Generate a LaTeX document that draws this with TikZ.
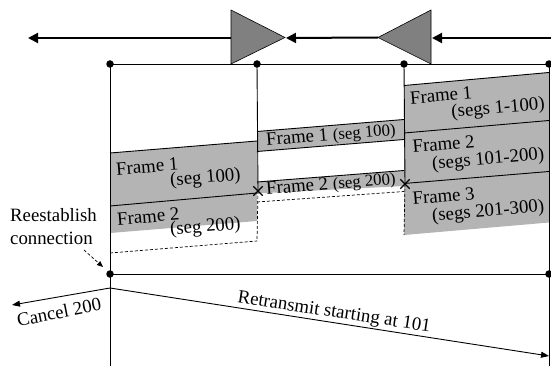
\documentclass[tikz,border=0pt]{standalone}
\usepackage{fontspec}
\setmainfont{Liberation Serif}
\usetikzlibrary{arrows.meta,shapes.misc}
\definecolor{framegray}{RGB}{180,180,180}
\definecolor{trigray}{RGB}{128,128,128}
\begin{document}
\begin{tikzpicture}[x=1pt,y=-1pt,
  dot/.style={circle,fill=black,inner sep=0pt,minimum size=7.5pt},
  txt/.style={font=\fontsize{18.8}{23}\selectfont,inner sep=0pt},
  two/.style={font=\fontsize{18.8}{#1}\selectfont,inner sep=0pt,align=left},
  ln/.style={line width=0.9pt},
  dsh/.style={line width=0.7pt,dash pattern=on 3pt off 2pt},
  fr/.style={fill=framegray,draw=none},
  xm/.style={cross out,draw,line width=1.3pt,minimum size=8pt,inner sep=0pt},
  big/.style={line width=2pt,-{Triangle[length=10pt,width=10pt]}},
  sm/.style={line width=0.9pt,-{Triangle[length=8pt,width=6pt]}},
  tri/.style={fill=trigray,draw=black,line width=0.6pt}]
\useasboundingbox (0,0) rectangle (551,366);
% ---- coordinates
\coordinate (LA1) at (110,153); \coordinate (LB1) at (257,141);
\coordinate (LA2) at (110,206); \coordinate (LB2) at (257,193);
\coordinate (LA3) at (110,233); \coordinate (LB3) at (257,221);
\coordinate (LA4) at (110,253); \coordinate (LB4) at (257,241);
\coordinate (M1a) at (257,131.5); \coordinate (M1b) at (404,119.5);
\coordinate (M1c) at (404,139.5); \coordinate (M1d) at (257,151.5);
\coordinate (M2a) at (257,182); \coordinate (M2b) at (404,170.5);
\coordinate (M2c) at (404,186); \coordinate (M2d) at (257,193.5);
\coordinate (M2e) at (257,202); \coordinate (M2f) at (404,191.5);
\coordinate (R0a) at (404,85.5); \coordinate (R0b) at (549,72.5);
\coordinate (R1a) at (404,133); \coordinate (R1b) at (549,120.5);
\coordinate (R2a) at (404,183.5); \coordinate (R2b) at (549,171.5);
\coordinate (R3a) at (404,235); \coordinate (R3b) at (549,222.5);
\coordinate (e1) at (110,366); \coordinate (e4) at (549,366);
\coordinate (c0) at (110,288); \coordinate (c1) at (12,305); \coordinate (c2) at (549,356);
\coordinate (r0) at (84,250); \coordinate (r1) at (103,267);
\coordinate (T1a) at (231,10); \coordinate (T1b) at (231,64); \coordinate (T1e) at (285,37.5);
\coordinate (T2a) at (431,10); \coordinate (T2b) at (431,64); \coordinate (T2w) at (378,37.5);
\coordinate (T1w) at (231,38); \coordinate (T2e) at (431,38);
\coordinate (A1) at (28,38); \coordinate (A2) at (286,38); \coordinate (A3) at (551,38); \coordinate (A3t) at (432,38);
% ---- grey fills
\fill[fr] (LA1) -- (LB1) -- (LB3) -- (LA3) -- cycle;
\fill[fr] (M1a) -- (M1b) -- (M1c) -- (M1d) -- cycle;
\fill[fr] (M2a) -- (M2b) -- (M2c) -- (M2d) -- cycle;
\fill[fr] (R0a) -- (R0b) -- (R3b) -- (R3a) -- cycle;
% ---- frame edges
\draw[ln] (LA1) -- (LB1);
\draw[ln] (LA2) -- (LB2);
\draw[dsh] (LA4) -- (LB4);
\draw[ln] (M1a) -- (M1b);
\draw[ln] (M1d) -- (M1c);
\draw[ln] (M2a) -- (M2b);
\draw[dsh] (M2e) -- (M2f);
\draw[ln] (R0a) -- (R0b);
\draw[ln] (R1a) -- (R1b);
\draw[ln] (R2a) -- (R2b);
% ---- dots and crosses
\node[dot] (d1) at (110,64) {};
\node[dot] (d2) at (257,64) {};
\node[dot] (d3) at (404,64) {};
\node[dot] (d4) at (549,64) {};
\node[dot] (b1) at (110,274) {};
\node[dot] (b2) at (549,274) {};
\node[xm] (x1) at (258,191) {};
\node[xm] (x2) at (405,184) {};
% ---- timelines
\draw[ln] (d1.center) -- (d4.center);
\draw[ln] (b1.center) -- (b2.center);
\draw[ln] (d1.center) -- (e1);
\draw[ln] (d4.center) -- (e4);
\draw[ln] (d2.center) -- (x1.center);
\draw[dsh] (x1.center) -- (LB4);
\draw[ln] (d3.center) -- (x2.center);
\draw[dsh] (x2.center) -- (R3a);
% ---- top channel
\draw[tri] (T1a) -- (T1b) -- (T1e) -- cycle;
\draw[tri] (T2a) -- (T2b) -- (T2w) -- cycle;
\draw[big] (T1w) -- (A1);
\draw[big] (T2w) -- (A2);
\draw[big] (A3) -- (A3t);
% ---- bottom arrows
\draw[sm] (c0) -- (c1);
\draw[sm] (c0) -- (c2);
\draw[dsh,-{Triangle[length=6pt,width=5pt]}] (r0) -- (r1);
% ---- labels
\node[two=15,rotate=4.7] (lf1) at (178.5,173.5) {Frame 1\\\hspace*{53pt}(seg 100)};
\node[two=14,rotate=4.7] (lf2) at (179,223) {Frame 2\\\hspace*{52pt}(seg 200)};
\node[txt,rotate=4.7] (mf1) at (331,136) {Frame 1 \fontsize{16.8}{20}\selectfont(seg 100)};
\node[txt,rotate=4.7] (mf2) at (331,185) {Frame 2 \fontsize{16.8}{20}\selectfont(seg 200)};
\node[two=17,rotate=5] (rf1) at (477.5,102.5) {Frame 1\\\hspace*{40pt}(segs 1-100)};
\node[two=18,rotate=5] (rf2) at (478.5,152) {Frame 2\\\hspace*{18pt}(segs 101-200)};
\node[two=18,rotate=5] (rf3) at (478.5,204) {Frame 3\\\hspace*{18pt}(segs 201-300)};
\node[txt,align=left] (re) at (53.5,227) {Reestablish\\connection};
\node[txt,rotate=11] (cn) at (59,312) {Cancel 200};
\node[txt,rotate=-8.7] (rt) at (334,313) {Retransmit starting at 101};
\end{tikzpicture}
\end{document}
